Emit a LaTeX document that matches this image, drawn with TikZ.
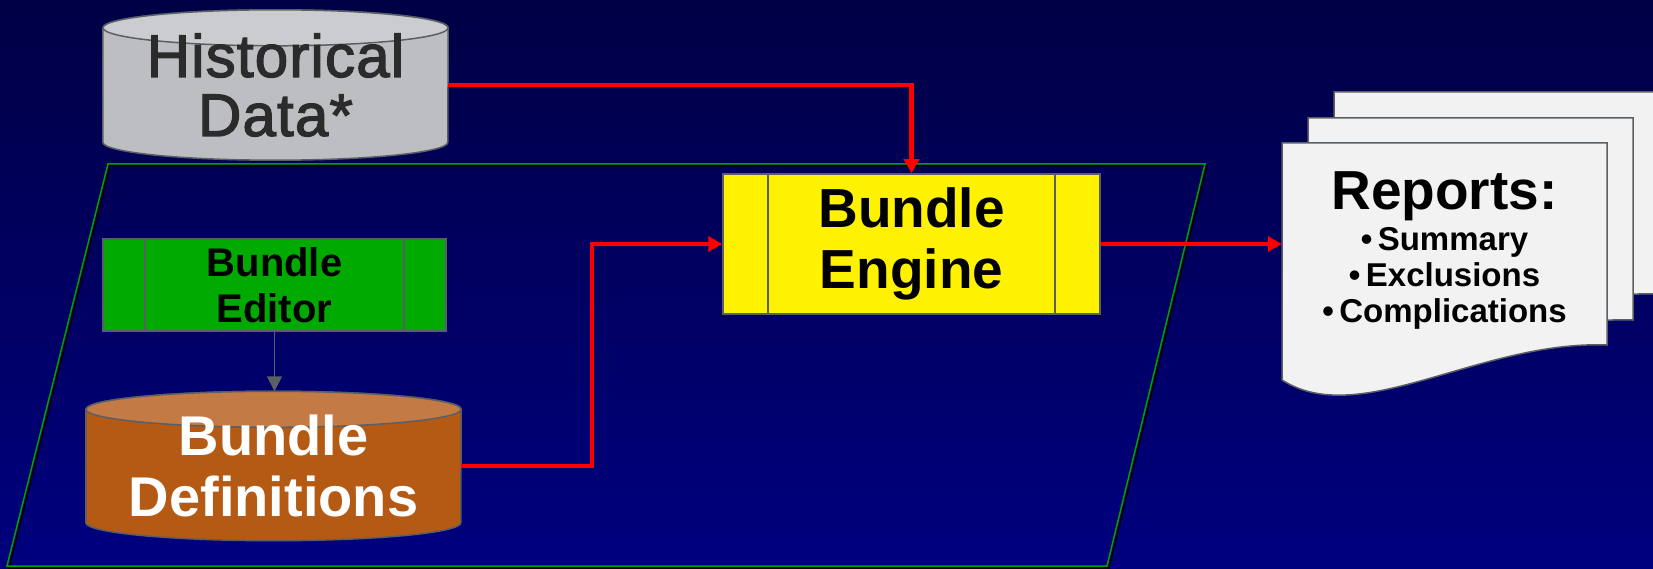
\documentclass[tikz,border=0pt]{standalone}
\usepackage{fontspec}
\setmainfont{Liberation Sans}
\newfontfamily\heavyfont[UprightFeatures={FakeBold=2.2}, LetterSpace=2]{Liberation Sans}
\usetikzlibrary{arrows.meta}

\definecolor{navytop}{HTML}{000045}
\definecolor{navybottom}{HTML}{00007F}
\definecolor{edgegray}{HTML}{5A5F66}
\definecolor{histbody}{HTML}{BDBEC2}
\definecolor{histtop}{HTML}{CBCCD0}
\definecolor{histtext}{HTML}{2B2B2B}
\definecolor{editgreen}{HTML}{00AA00}
\definecolor{defbody}{HTML}{B55A14}
\definecolor{deftop}{HTML}{C47A44}
\definecolor{framegreen}{HTML}{00A000}
\definecolor{pagefill}{HTML}{F2F2F2}
\definecolor{flowred}{HTML}{FF0000}

\pgfdeclarelayer{bg}
\pgfdeclarelayer{shapes}
\pgfsetlayers{bg,shapes,main}

\tikzset{
  procbox/.style={rectangle, draw=edgegray, line width=1.5pt, inner sep=0pt, align=center,
    path picture={\draw[edgegray, line width=1.5pt]
      ([xshift=#1]path picture bounding box.north west) -- ([xshift=#1]path picture bounding box.south west)
      ([xshift=-#1]path picture bounding box.north east) -- ([xshift=-#1]path picture bounding box.south east);}},
  procbox/.default=42pt,
  dbtext/.style={inner sep=0pt, align=center},
  flow/.style={flowred, line width=4.5pt, -{Triangle[width=15pt,length=14pt]}},
  link/.style={edgegray, line width=1.5pt, -{Triangle[width=15pt,length=15pt]}},
  cylline/.style={draw=edgegray, line width=1.5pt},
  page/.style={draw=edgegray, line width=1.5pt, fill=pagefill}
}

% database drum behind a text node: node, body, top, x radius
\newcommand\dbcyl[4]{%
  \begin{pgfonlayer}{shapes}
  \path[cylline, fill=#2] ([yshift=-18pt]#1.north west) -- ([yshift=18pt]#1.south west)
    arc[start angle=180, end angle=360, x radius=#4, y radius=18pt]
    -- ([yshift=-18pt]#1.north east)
    arc[start angle=0, end angle=180, x radius=#4, y radius=18pt] -- cycle;
  \path[cylline, fill=#3] ([yshift=-18pt]#1.north) ellipse[x radius=#4, y radius=18pt];
  \end{pgfonlayer}}

% one sheet of the report stack, shifted by dx, dy
\newcommand\reportpage[2]{%
  \path[page, shift={(#1,#2)}] (1282,143) -- (1607,143) -- (1607,345)
    .. controls (1480,340) and (1360,430) .. (1282,380) -- cycle;}

\begin{document}
\begin{tikzpicture}[x=1pt, y=-1pt]
\begin{pgfonlayer}{bg}
\shade[top color=navytop, bottom color=navybottom] (0,0) rectangle (1653,569);
\end{pgfonlayer}
\useasboundingbox (0,0) rectangle (1653,569);

% work area
\draw[black, line width=1.5pt] (110,166) -- (1207,166) -- (1109,568) -- (9,568) -- cycle;
\draw[framegreen, line width=1.5pt] (108,164) -- (1205,164) -- (1107,566) -- (7,566) -- cycle;

% report stack
\begin{pgfonlayer}{shapes}
\begin{scope}
\clip (0,0) rectangle (1653,569);
\reportpage{52}{-51}
\reportpage{26}{-25}
\reportpage{0}{0}
\end{scope}
\end{pgfonlayer}

\node[dbtext, minimum width=345pt, minimum height=150pt, text=histtext,
  font=\heavyfont\fontsize{60}{59}\selectfont] (hist) at (275.5,85) {Historical\\Data*};
\dbcyl{hist}{histbody}{histtop}{172.5pt}

\node[procbox, fill=editgreen, minimum width=343pt, minimum height=92pt,
  font=\fontsize{40}{46}\selectfont\bfseries] (editor) at (274.5,285) {Bundle\\Editor};

\node[dbtext, minimum width=375pt, minimum height=149pt, text=white,
  font=\fontsize{56}{61}\selectfont\bfseries] (defs) at (273.5,466) {Bundle\\Definitions};
\dbcyl{defs}{defbody}{deftop}{187.5pt}

\node[procbox=45pt, fill=yellow, minimum width=377pt, minimum height=140pt,
  font=\fontsize{55}{61}\selectfont\bfseries] (engine) at (911.5,244) {Bundle\\Engine};

\node[dbtext, minimum width=325pt, minimum height=237pt,
  font=\fontsize{33}{36}\selectfont\bfseries] (reports) at (1444.5,251)
  {{\fontsize{55}{60}\selectfont Reports:}\\[5pt]•\,Summary\\•\,Exclusions\\•\,Complications};

% flows
\draw[flow] (hist.east) -| (engine.north);
\draw[link] (editor.south) -- (editor.south |- defs.north);
\draw[flow] (defs.east) -- ++(131,0) |- (engine.west);
\draw[flow] (engine.east) -- (engine.east -| reports.west);
\end{tikzpicture}
\end{document}
